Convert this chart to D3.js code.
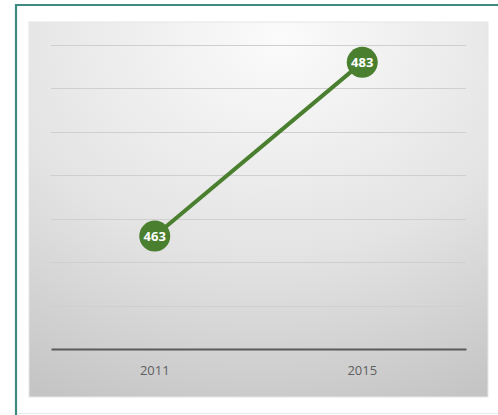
<!DOCTYPE html>
<html lang="en">
<head>
  <meta charset="UTF-8">
  <title>2011 vs 2015</title>
  <script src="https://d3js.org/d3.v7.min.js"></script>
  <style>
    html, body { margin: 0; background: #fff; overflow: hidden; }
    svg { display: block; }
    .grid line { stroke: #cfcfcf; stroke-width: 1px; }
    .x-axis text { font: 13px "Open Sans", sans-serif; fill: #5f5f5f; }
    .point-label { font: bold 13px "Open Sans", sans-serif; fill: #fff; }
  </style>
</head>
<body>
  <svg id="chart" width="498" height="415"></svg>

  <script>
    // data
    const years = ["2011", "2015"];
    const values = [463, 483];
    const gridTicks = [455, 460, 465, 470, 475, 480, 485];

    const svg = d3.select("#chart");
    const green = "#4a7f2f";

    // background gradient of the plot panel
    const defs = svg.append("defs");
    const grad = defs.append("radialGradient")
      .attr("id", "panelGrad")
      .attr("cx", "50%").attr("cy", "0%").attr("r", "110%")
      .attr("fx", "55%").attr("fy", "5%");
    grad.append("stop").attr("offset", "0%").attr("stop-color", "#fbfbfb");
    grad.append("stop").attr("offset", "55%").attr("stop-color", "#e3e3e3");
    grad.append("stop").attr("offset", "100%").attr("stop-color", "#c4c4c4");

    // outer frame (runs off the right and bottom edges)
    svg.append("path")
      .attr("d", "M16,415 V5 H498")
      .attr("fill", "none")
      .attr("stroke", "#3d8b80")
      .attr("stroke-width", 2.2);
    svg.append("line")
      .attr("x1", 17).attr("x2", 498).attr("y1", 413.5).attr("y2", 413.5)
      .attr("stroke", "#e2eeee");

    // panel
    svg.append("rect")
      .attr("x", 29).attr("y", 22)
      .attr("width", 459).attr("height", 375)
      .attr("fill", "url(#panelGrad)")
      .attr("stroke", "#e6e6e6")
      .attr("stroke-width", 1);

    const x = d3.scaleBand().domain(years).range([51, 466]).padding(0);
    const y = d3.scaleLinear().domain([450, 485]).range([349, 45]);

    // gridlines
    svg.append("g").attr("class", "grid")
      .selectAll("line")
      .data(gridTicks)
      .enter().append("line")
      .attr("x1", 51).attr("x2", 466)
      .attr("y1", d => Math.round(y(d)) + 0.5)
      .attr("y2", d => Math.round(y(d)) + 0.5);

    // x axis
    const xAxis = svg.append("g")
      .attr("class", "x-axis")
      .attr("transform", `translate(0,${y(450)})`)
      .call(d3.axisBottom(x).tickSize(0).tickPadding(17));
    xAxis.select(".domain").attr("stroke", "#5a5a5a").attr("stroke-width", 2.2);

    const cx = d => x(d) + x.bandwidth() / 2;

    // line
    const data = years.map((yr, i) => ({ year: yr, value: values[i] }));
    svg.append("path")
      .datum(data)
      .attr("fill", "none")
      .attr("stroke", green)
      .attr("stroke-width", 4)
      .attr("d", d3.line().x(d => cx(d.year)).y(d => y(d.value)));

    // markers
    const pts = svg.selectAll(".pt")
      .data(data)
      .enter().append("g")
      .attr("class", "pt")
      .attr("transform", d => `translate(${cx(d.year)},${y(d.value)})`);

    pts.append("circle")
      .attr("r", 15.5)
      .attr("fill", green);

    pts.append("text")
      .attr("class", "point-label")
      .attr("text-anchor", "middle")
      .attr("dy", "0.36em")
      .text(d => d.value);
  </script>
</body>
</html>
